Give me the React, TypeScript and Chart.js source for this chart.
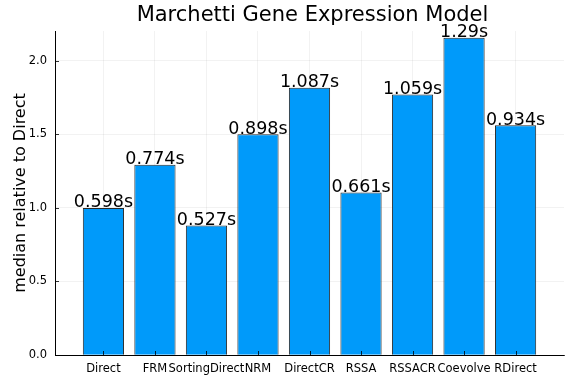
import React, { useEffect, useRef } from "react";
import { Chart, registerables } from "chart.js";

Chart.register(...registerables);

const chartTitle = "Marchetti Gene Expression Model";
const yAxisTitle = "median relative to Direct";
const categories = ["Direct", "FRM", "SortingDirect", "NRM", "DirectCR", "RSSA", "RSSACR", "Coevolve", "RDirect"];
const relativeMedian = [1.0, 1.294, 0.881, 1.502, 1.818, 1.105, 1.771, 2.157, 1.562];
const timeLabels = ["0.598s", "0.774s", "0.527s", "0.898s", "1.087s", "0.661s", "1.059s", "1.29s", "0.934s"];
const yTicks = [0, 0.5, 1.0, 1.5, 2.0];

const FONT = "'DejaVu Sans', sans-serif";

const annotationPlugin = {
  id: "barAnnotations",
  afterDatasetsDraw(chart: any) {
    const ctx = chart.ctx;
    const meta = chart.getDatasetMeta(0);
    ctx.save();
    ctx.font = `17.5px ${FONT}`;
    ctx.fillStyle = "#000";
    ctx.textAlign = "center";
    ctx.textBaseline = "alphabetic";
    meta.data.forEach((bar: any, i: number) => {
      ctx.fillText(timeLabels[i], bar.x, bar.y - 0.5);
    });
    ctx.restore();
  },
};

const tickMarkPlugin = {
  id: "innerTicks",
  afterDatasetsDraw(chart: any) {
    const ctx = chart.ctx;
    const area = chart.chartArea;
    const xs = chart.scales.x;
    const ys = chart.scales.y;
    ctx.save();
    ctx.strokeStyle = "rgba(0,0,0,0.8)";
    ctx.lineWidth = 1;
    ctx.beginPath();
    yTicks.forEach((v) => {
      const y = Math.round(ys.getPixelForValue(v)) + 0.5;
      ctx.moveTo(area.left, y);
      ctx.lineTo(area.left + 4, y);
    });
    categories.forEach((_, i) => {
      const x = Math.round(xs.getPixelForValue(i + 1)) + 0.5;
      ctx.moveTo(x, area.bottom);
      ctx.lineTo(x, area.bottom - 4);
    });
    ctx.stroke();
    ctx.restore();
  },
};

const titlePlugin = {
  id: "customTitle",
  afterDraw(chart: any) {
    const ctx = chart.ctx;
    const area = chart.chartArea;
    ctx.save();
    ctx.font = `21px ${FONT}`;
    ctx.fillStyle = "#000";
    ctx.textAlign = "center";
    ctx.textBaseline = "alphabetic";
    ctx.fillText(chartTitle, (area.left + area.right) / 2 + 3, 20.5);
    ctx.restore();
  },
};

export default function App() {
  const canvasRef = useRef<HTMLCanvasElement | null>(null);

  useEffect(() => {
    if (!canvasRef.current) return;
    const chart = new Chart(canvasRef.current, {
      type: "bar",
      data: {
        datasets: [
          {
            data: categories.map((_, i) => ({ x: i + 1, y: relativeMedian[i] })),
            backgroundColor: "#009AFA",
            borderColor: "#2a2a2a",
            borderWidth: 1,
            barPercentage: 0.8,
            categoryPercentage: 1.0,
          },
        ],
      },
      options: {
        animation: false,
        responsive: false,
        maintainAspectRatio: false,
        layout: { padding: { left: 0, right: 12, top: 31, bottom: 0 } },
        plugins: {
          legend: { display: false },
          title: { display: false },
          tooltip: { enabled: false },
        },
        scales: {
          x: {
            type: "linear",
            offset: false,
            min: 0.06,
            max: 9.94,
            afterBuildTicks: (axis: any) => {
              axis.ticks = categories.map((_, i) => ({ value: i + 1 }));
            },
            afterFit: (scale: any) => {
              scale.height = 29;
            },
            ticks: {
              autoSkip: false,
              maxRotation: 0,
              padding: 7,
              color: "#000",
              font: { family: FONT, size: 11.5 },
              callback: (v: any) => categories[Math.round(Number(v)) - 1] ?? "",
            },
            grid: { color: "rgba(0,0,0,0.1)", lineWidth: 0.5, drawTicks: false, offset: false },
            border: { color: "#000", width: 1 },
          },
          y: {
            min: 0,
            max: 2.2034,
            afterBuildTicks: (axis: any) => {
              axis.ticks = yTicks.map((v) => ({ value: v }));
            },
            afterFit: (scale: any) => {
              scale.width = 55;
            },
            ticks: {
              padding: 8,
              color: "#000",
              font: { family: FONT, size: 11.5 },
              callback: (v: any) => Number(v).toFixed(1),
            },
            title: {
              display: true,
              text: yAxisTitle,
              color: "#000",
              font: { family: FONT, size: 16 },
              padding: { top: 11, bottom: 0 },
            },
            grid: { color: "rgba(0,0,0,0.1)", lineWidth: 0.5, drawTicks: false },
            border: { color: "#000", width: 1 },
          },
        },
      },
      plugins: [tickMarkPlugin, annotationPlugin, titlePlugin],
    });
    return () => chart.destroy();
  }, []);

  return (
    <div style={{ position: "fixed", left: 0, top: 0, width: 576, height: 384, background: "#fff" }}>
      <canvas ref={canvasRef} width={576} height={384} style={{ width: 576, height: 384 }} />
    </div>
  );
}
